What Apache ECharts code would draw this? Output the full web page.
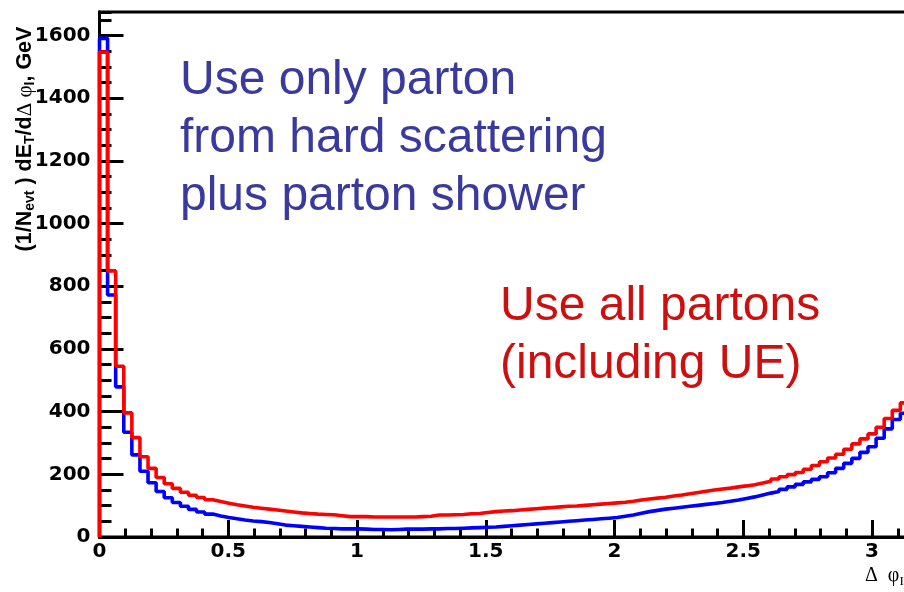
<!DOCTYPE html>
<html>
<head>
<meta charset="utf-8">
<script src="https://cdn.jsdelivr.net/npm/echarts@6/dist/echarts.min.js"></script>
<style>
  html, body { margin: 0; padding: 0; background: #ffffff; }
  #chart { width: 904px; height: 592px; }
</style>
</head>
<body>
<div id="chart"></div>
<script>
// Histogram binning: 100 equal bins in delta-phi over [0, pi]
const nBins = 100;
const phiLow = 0;
const phiHigh = Math.PI;

// (1/Nevt) dE_T/d(delta phi) per bin, all partons including underlying event
const allPartons = [
  1547, 849, 545, 396, 317, 256, 219, 190, 170, 155,
  143, 133, 126, 119, 113, 108, 103, 99, 95, 92,
  89, 86, 83, 80, 77, 75, 73, 72, 71, 68,
  65, 65, 65, 64, 64, 64, 64, 64, 64, 65,
  66, 70, 70, 71, 72, 74, 75, 78, 81, 83,
  84, 86, 88, 90, 92, 94, 96, 98, 99, 101,
  103, 105, 107, 109, 111, 114, 118, 121, 124, 127,
  131, 134, 138, 142, 146, 150, 153, 156, 160, 163,
  167, 172, 178, 185, 192, 199, 206, 216, 228, 240,
  252, 264, 280, 297, 313, 329, 350, 378, 404, 428
];

// Same quantity, hard-scattering partons plus parton shower only
const hardPlusShower = [
  1591, 772, 479, 334, 262, 210, 173, 145, 125, 110,
  98, 88, 80, 73, 67, 62, 58, 54, 51, 49,
  46, 42, 38, 36, 34, 32, 30, 28, 27, 26,
  26, 26, 25, 24, 24, 23, 24, 25, 25, 25,
  26, 26, 27, 27, 28, 29, 30, 31, 32, 34,
  36, 38, 40, 42, 44, 46, 48, 50, 52, 54,
  56, 58, 60, 62, 66, 70, 76, 81, 85, 89,
  92, 95, 98, 101, 104, 107, 110, 114, 118, 123,
  128, 134, 140, 145, 152, 160, 168, 176, 184, 192,
  205, 219, 235, 251, 270, 288, 315, 345, 375, 395
];

// Axis ranges and tick spacing
const xRange = [0, 3.5];
const xStep = 0.5;
const yRange = [0, 1675];
const yStep = 200;
const yMinorStep = 50;

const blueNote = ['Use only parton', 'from hard scattering', 'plus parton shower'];
const redNote = ['Use all partons', '(including UE)'];

// Turn per-bin contents into an outline: left edge of each bin, closed at both ends
function histOutline(values) {
  const w = (phiHigh - phiLow) / nBins;
  const pts = [[phiLow, 0]];
  values.forEach((v, i) => pts.push([phiLow + i * w, v]));
  pts.push([phiHigh, values[values.length - 1]]);
  pts.push([phiHigh, 0]);
  return pts;
}

const tickFont = {
  fontFamily: 'DejaVu Sans', fontWeight: 'bold', fontSize: 20, color: '#000',
  formatter: v => String(v)
};

const chart = echarts.init(document.getElementById('chart'), null, { renderer: 'canvas' });

chart.setOption({
  animation: false,
  backgroundColor: '#ffffff',
  grid: {
    left: 99.5,
    top: 12,
    width: 3.5 * 257.5,
    height: 525,
    show: true,
    borderColor: '#000',
    borderWidth: 3,
    backgroundColor: 'transparent',
    outerBoundsMode: 'none',
    containLabel: false
  },
  xAxis: {
    type: 'value',
    min: xRange[0],
    max: xRange[1],
    interval: xStep,
    axisLine: { show: true, onZero: false, lineStyle: { color: '#000', width: 3 } },
    axisTick: { show: true, inside: true, length: 17, lineStyle: { color: '#000', width: 3 } },
    minorTick: { show: true, splitNumber: 5, length: 8.5, lineStyle: { color: '#000', width: 3 } },
    splitLine: { show: false },
    minorSplitLine: { show: false },
    axisLabel: Object.assign({ margin: 5, showMaxLabel: false }, tickFont)
  },
  yAxis: [
    {
      type: 'value',
      position: 'left',
      min: yRange[0],
      max: yRange[1],
      interval: yStep,
      axisLine: { show: true, onZero: false, lineStyle: { color: '#000', width: 3 } },
      axisTick: { show: true, inside: true, length: 24, lineStyle: { color: '#000', width: 3 } },
      splitLine: { show: false },
      axisLabel: Object.assign({ margin: 9, showMaxLabel: false }, tickFont)
    },
    {
      // finer tick marks every 50 units
      type: 'value',
      position: 'left',
      offset: 0,
      min: yRange[0],
      max: yRange[1],
      interval: yMinorStep,
      axisLine: { show: false },
      axisTick: { show: true, inside: true, length: 12, lineStyle: { color: '#000', width: 3 } },
      splitLine: { show: false },
      axisLabel: { show: false }
    }
  ],
  series: [
    {
      name: 'hard scattering + parton shower',
      type: 'line',
      step: 'end',
      symbol: 'none',
      data: histOutline(hardPlusShower),
      lineStyle: { color: '#0000ff', width: 3.6 },
      z: 3
    },
    {
      name: 'all partons (including UE)',
      type: 'line',
      step: 'end',
      symbol: 'none',
      data: histOutline(allPartons),
      lineStyle: { color: '#ff0000', width: 3.6 },
      z: 4
    }
  ],
  graphic: [
    {
      type: 'text',
      x: 180,
      y: 52,
      z: 10,
      style: {
        text: blueNote.join('\n'),
        fontFamily: 'Liberation Sans',
        fontSize: 48,
        lineHeight: 58,
        fill: '#3a3a9e',
        align: 'left',
        verticalAlign: 'top'
      }
    },
    {
      type: 'text',
      x: 500,
      y: 278,
      z: 10,
      style: {
        text: redNote.join('\n'),
        fontFamily: 'Liberation Sans',
        fontSize: 48,
        lineHeight: 58,
        fill: '#cc1010',
        align: 'left',
        verticalAlign: 'top'
      }
    },
    {
      // y-axis title, reading bottom to top
      type: 'text',
      x: 25,
      y: 139,
      rotation: Math.PI / 2,
      z: 10,
      style: {
        text: '(1/N{sub|evt} ) dE{sub|T}/d{g|Δ φ}{sub|I}, GeV',
        fontFamily: 'Liberation Sans',
        fontWeight: 'bold',
        fontSize: 21.5,
        lineHeight: 25,
        fill: '#000',
        align: 'center',
        verticalAlign: 'middle',
        rich: {
          sub: { fontFamily: 'Liberation Sans', fontWeight: 'bold', fontSize: 14, lineHeight: 13, verticalAlign: 'bottom', fill: '#000' },
          g: { fontFamily: 'Liberation Serif', fontWeight: 'normal', fontSize: 21, fill: '#000' }
        }
      }
    },
    {
      // x-axis title
      type: 'text',
      x: 865,
      y: 576,
      z: 10,
      style: {
        text: 'Δ  φ{sub|I}',
        fontFamily: 'Liberation Serif',
        fontSize: 20,
        lineHeight: 24,
        fill: '#000',
        align: 'left',
        verticalAlign: 'middle',
        rich: {
          sub: { fontFamily: 'Liberation Serif', fontSize: 13, lineHeight: 13, verticalAlign: 'bottom', fill: '#000' }
        }
      }
    }
  ]
});
</script>
</body>
</html>
